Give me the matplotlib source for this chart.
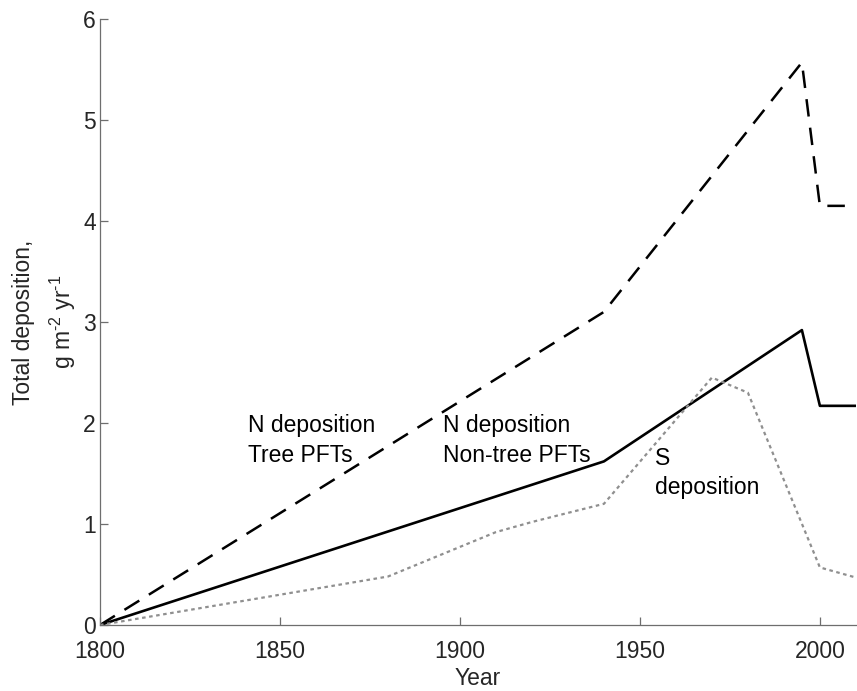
import matplotlib
matplotlib.use("Agg")
import matplotlib.pyplot as plt

# tree PFTs N deposition (dashed)
tree_years = [1800, 1940, 1995, 2000, 2010]
tree_dep = [0.0, 3.10, 5.57, 4.15, 4.15]

# non-tree PFTs N deposition (solid)
nontree_years = [1800, 1940, 1995, 2000, 2010]
nontree_dep = [0.0, 1.62, 2.92, 2.17, 2.17]

# S deposition (dotted grey)
s_years = [1800, 1880, 1910, 1920, 1940, 1970, 1980, 2000, 2010]
s_dep = [0.0, 0.48, 0.92, 1.02, 1.20, 2.45, 2.30, 0.57, 0.47]

x_ticks = [1800, 1850, 1900, 1950, 2000]
y_ticks = [0, 1, 2, 3, 4, 5, 6]

plt.rcParams["font.family"] = ["Liberation Sans", "DejaVu Sans"]
plt.rcParams["font.size"] = 16.5
plt.rcParams["mathtext.fontset"] = "custom"
plt.rcParams["mathtext.rm"] = "Liberation Sans"
plt.rcParams["mathtext.it"] = "Liberation Sans"
plt.rcParams["mathtext.default"] = "regular"

TXT_COL = "#262626"
AX_COL = "#6e6e6e"

fig = plt.figure(figsize=(8.57, 6.91), dpi=100)
ax = fig.add_axes([0.1167, 0.0955, 0.882, 0.877])

ax.plot(tree_years, tree_dep, color="black", lw=1.8, linestyle=(0, (7, 4.5)))
ax.plot(nontree_years, nontree_dep, color="black", lw=1.9)
ax.plot(s_years, s_dep, color="#8f8f8f", lw=1.6, linestyle=(0, (1.6, 1.6)),
        dash_capstyle="butt")

ax.text(1841, 1.98, "N deposition", va="center", ha="left")
ax.text(1841, 1.68, "Tree PFTs", va="center", ha="left")
ax.text(1895.3, 1.98, "N deposition", va="center", ha="left")
ax.text(1895.3, 1.68, "Non-tree PFTs", va="center", ha="left")
ax.text(1954.2, 1.65, "S", va="center", ha="left")
ax.text(1954.2, 1.36, "deposition", va="center", ha="left")

ax.set_xlim(1800, 2010)
ax.set_ylim(0, 6)
ax.set_xticks(x_ticks)
ax.set_yticks(y_ticks)

ax.spines["top"].set_visible(False)
ax.spines["right"].set_visible(False)
for side in ("left", "bottom"):
    ax.spines[side].set_color(AX_COL)
    ax.spines[side].set_linewidth(0.9)
ax.tick_params(direction="in", length=6, width=0.9, color=AX_COL,
               labelcolor=TXT_COL)
ax.tick_params(axis="x", pad=11)
ax.tick_params(axis="y", pad=3)

ax.set_xlabel("Year", color=TXT_COL, labelpad=3)
ax.set_ylabel(r"Total deposition," "\n" r"g m$^{\text{-}2}$ yr$^{\text{-}1}$",
              color=TXT_COL, linespacing=1.55, labelpad=4)

fig.savefig("out.png", dpi=100)
